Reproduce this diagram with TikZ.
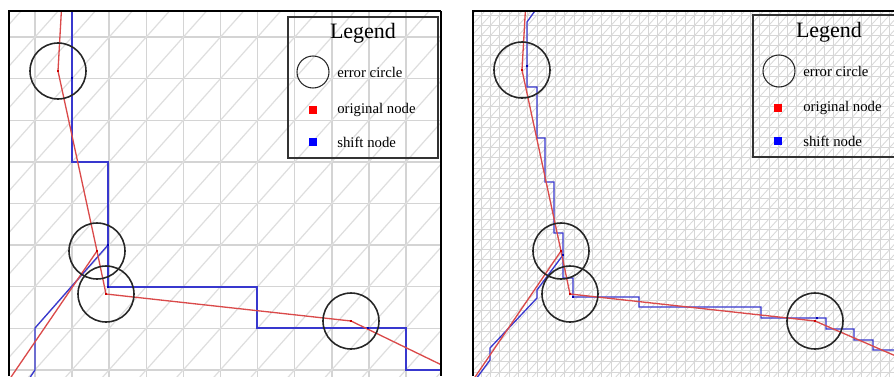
\documentclass[tikz,border=0pt]{standalone}
\usepackage{fontspec}
\setmainfont{Liberation Serif}
\usetikzlibrary{positioning}
\definecolor{origred}{RGB}{218,74,74}
\definecolor{shiftblue}{RGB}{56,56,206}

\begin{document}
\begin{tikzpicture}[
    x=0.02cm,
    y=-0.02cm,
    font=\fontsize{8.4}{10}\selectfont,
    gridline/.style={draw=black!17, line width=0.8pt},
    diagline/.style={draw=black!13, line width=0.7pt},
    fineline/.style={draw=black!16, line width=0.5pt},
    finediag/.style={draw=black!15, line width=0.5pt},
    frame/.style={draw=black, line width=1.5pt},
    origpath/.style={draw=origred, line width=0.75pt},
    shiftpath/.style={draw=shiftblue, line width=0.75pt},
    errcirc/.style={draw=black!85, line width=0.9pt},
    orgdot/.style={fill=red!80!black, minimum size=1.7pt, inner sep=0pt},
    shiftdot/.style={fill=blue!70!black, minimum size=1.7pt, inner sep=0pt},
    legbox/.style={draw=black!80, line width=0.8pt},
    legsq/.style={minimum size=4pt, inner sep=0pt},
    legtext/.style={anchor=west, inner sep=0pt}
]

\useasboundingbox (0,0) rectangle (894,376);

% left panel, coarse grid
\begin{scope}
\clip (9,11) rectangle (441,376);
\foreach \i in {-1,...,11}
    \draw[gridline] (35+37.1*\i,0) -- (35+37.1*\i,380);
\foreach \j in {-1,...,9}
    \draw[gridline] (0,37+41.6*\j) -- (450,37+41.6*\j);
\foreach \c in {-2,...,20}
    \draw[diagline] (35+37.1*\c-371,453) -- (35+37.1*\c+74.2,-46.2);

\coordinate (orgA) at (58,71);
\coordinate (orgB) at (97,251);
\coordinate (orgC) at (106,294);
\coordinate (orgD) at (351,321);
\coordinate (shiftA) at (72,78);
\coordinate (shiftB) at (108,245);
\coordinate (shiftC) at (108,287);
\coordinate (shiftD) at (368,328);

\draw[shiftpath] (72,0) -- (shiftA) -- (72,162) -- (108,162) -- (shiftB) -- (shiftC)
    -- (257,287) -- (257,328) -- (shiftD) -- (406,328) -- (406,370) -- (450,370);
\draw[shiftpath] (shiftB) -- (35,328) -- (35,370) -- (29,379);
\draw[origpath] (62,0) -- (orgA) -- (orgB) -- (orgC) -- (orgD) -- (452,370);
\draw[origpath] (orgB) -- (9,380);

\foreach \p in {orgA,orgB,orgC,orgD}
    \draw[errcirc] (\p) circle[radius=28];
\foreach \p in {orgA,orgB,orgC,orgD}
    \node[orgdot] at (\p) {};
\foreach \p in {shiftA,shiftB,shiftC,shiftD}
    \node[shiftdot] at (\p) {};
\end{scope}
\draw[frame] (9,376) -- (9,11) -- (441,11);
\draw[black, line width=0.8pt] (441,11) -- (441,376);

% left legend
\draw[legbox] (288,17) rectangle (438,158);
\node[font=\fontsize{12.5}{15}\selectfont] (legtitleL) at (363,33) {Legend};
\draw[black!85, line width=0.6pt] (313,72) circle[radius=16];
\node[legtext] (legerrL) at (337,72) {error circle};
\node[legsq, fill=red] (legorgL) at (313,110) {};
\node[legtext] (legorgtxtL) at (337,110) {original node};
\node[legsq, fill=blue] (legshiftL) at (313,142) {};
\node[legtext] (legshifttxtL) at (337,142) {shift node};

% right panel, fine grid
\begin{scope}
\clip (473,11) rectangle (894,376);
\foreach \i in {0,...,46}
    \draw[fineline] (472+9.28*\i,0) -- (472+9.28*\i,380);
\foreach \j in {-1,...,36}
    \draw[fineline] (460,15+10.2*\j) -- (900,15+10.2*\j);
\foreach \c in {-1,...,82}
    \draw[finediag] (472+9.28*\c-343.4,392.4) -- (472+9.28*\c+18.6,-5.4);

\coordinate (orgE) at (522,70);
\coordinate (orgF) at (561,251);
\coordinate (orgG) at (570,294);
\coordinate (orgH) at (815,321);
\coordinate (shiftE) at (527,66);
\coordinate (shiftF) at (563,255);
\coordinate (shiftG) at (573,297);
\coordinate (shiftH) at (817,318);

\draw[shiftpath] (537,8) -- (527,22) -- (shiftE) -- (527,87) -- (537,87) -- (537,138)
    -- (545,138) -- (545,182) -- (554,182) -- (554,233) -- (563,233) -- (shiftF)
    -- (563,278) -- (573,278) -- (shiftG) -- (639,297) -- (639,307) -- (761,307)
    -- (761,318) -- (shiftH) -- (826,318) -- (826,329) -- (854,329) -- (854,340)
    -- (873,340) -- (873,350) -- (900,350);
\draw[shiftpath] (shiftF) -- (537,290) -- (537,298) -- (490,348) -- (490,360) -- (476,379);
\draw[origpath] (526,0) -- (orgE) -- (orgF) -- (orgG) -- (orgH) -- (905,360);
\draw[origpath] (orgF) -- (473,380);

\foreach \p in {orgE,orgF,orgG,orgH}
    \draw[errcirc] (\p) circle[radius=28];
\foreach \p in {orgE,orgF,orgG,orgH}
    \node[orgdot] at (\p) {};
\foreach \p in {shiftE,shiftF,shiftG,shiftH}
    \node[shiftdot] at (\p) {};
\end{scope}
\draw[frame] (473,376) -- (473,11) -- (900,11);

% right legend
\draw[legbox] (753,15) rectangle (905,157);
\node[font=\fontsize{12.5}{15}\selectfont] (legtitleR) at (829,32) {Legend};
\draw[black!85, line width=0.6pt] (779,71) circle[radius=16];
\node[legtext] (legerrR) at (803,71) {error circle};
\node[legsq, fill=red] (legorgR) at (778,108) {};
\node[legtext] (legorgtxtR) at (803,108) {original node};
\node[legsq, fill=blue] (legshiftR) at (778,141) {};
\node[legtext] (legshifttxtR) at (803,141) {shift node};

\end{tikzpicture}
\end{document}
